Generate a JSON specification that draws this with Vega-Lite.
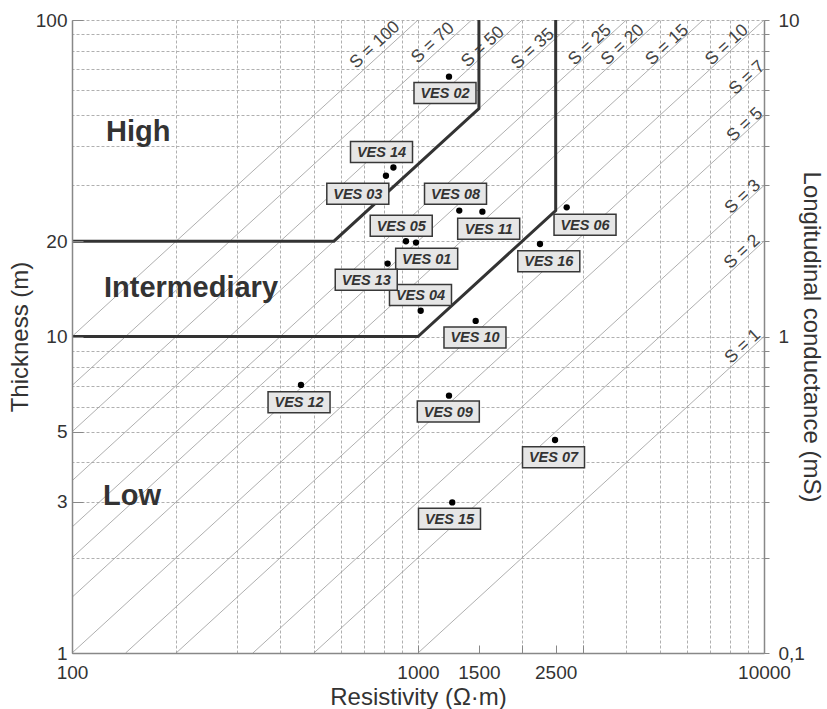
{
  "$schema": "https://vega.github.io/schema/vega-lite/v6.json",
  "width": 692,
  "height": 633,
  "autosize": {"type": "none"},
  "padding": {"left": 72, "top": 20, "right": 63, "bottom": 56},
  "background": "white",
  "config": {"view": {"stroke": null}, "font": "Liberation Sans"},
  "resolve": {"axis": {"x": "independent", "y": "independent"}},
  "datasets": {
    "diagonals": [
      {"S": 1, "rho": 1000, "h": 1}, {"S": 1, "rho": 10000, "h": 10},
      {"S": 2, "rho": 500, "h": 1}, {"S": 2, "rho": 10000, "h": 20},
      {"S": 3, "rho": 333.33, "h": 1}, {"S": 3, "rho": 10000, "h": 30},
      {"S": 5, "rho": 200, "h": 1}, {"S": 5, "rho": 10000, "h": 50},
      {"S": 7, "rho": 142.86, "h": 1}, {"S": 7, "rho": 10000, "h": 70},
      {"S": 10, "rho": 100, "h": 1}, {"S": 10, "rho": 10000, "h": 100},
      {"S": 15, "rho": 100, "h": 1.5}, {"S": 15, "rho": 6666.7, "h": 100},
      {"S": 20, "rho": 100, "h": 2}, {"S": 20, "rho": 5000, "h": 100},
      {"S": 25, "rho": 100, "h": 2.5}, {"S": 25, "rho": 4000, "h": 100},
      {"S": 35, "rho": 100, "h": 3.5}, {"S": 35, "rho": 2857.1, "h": 100},
      {"S": 50, "rho": 100, "h": 5}, {"S": 50, "rho": 2000, "h": 100},
      {"S": 70, "rho": 100, "h": 7}, {"S": 70, "rho": 1428.6, "h": 100},
      {"S": 100, "rho": 100, "h": 10}, {"S": 100, "rho": 1000, "h": 100}
    ],
    "slabels": [
      {"label": "S = 100", "rho": 751, "h": 83.4},
      {"label": "S = 70", "rho": 1104, "h": 84.6},
      {"label": "S = 50", "rho": 1541, "h": 82.2},
      {"label": "S = 35", "rho": 2148, "h": 81.0},
      {"label": "S = 25", "rho": 3140, "h": 83.4},
      {"label": "S = 20", "rho": 3908, "h": 83.4},
      {"label": "S = 15", "rho": 5248, "h": 83.4},
      {"label": "S = 10", "rho": 7816, "h": 83.4},
      {"label": "S = 7", "rho": 8933, "h": 65.6},
      {"label": "S = 5", "rho": 8810, "h": 46.6},
      {"label": "S = 3", "rho": 8690, "h": 27.6},
      {"label": "S = 2", "rho": 8650, "h": 18.5},
      {"label": "S = 1", "rho": 8690, "h": 9.3}
    ],
    "bounds": [
      {"seg": "upper", "o": 1, "rho": 100, "h": 20},
      {"seg": "upper", "o": 2, "rho": 571.4, "h": 20},
      {"seg": "upper", "o": 3, "rho": 1500, "h": 52.5},
      {"seg": "upper", "o": 4, "rho": 1500, "h": 100},
      {"seg": "lower", "o": 1, "rho": 100, "h": 10},
      {"seg": "lower", "o": 2, "rho": 1000, "h": 10},
      {"seg": "lower", "o": 3, "rho": 2500, "h": 25},
      {"seg": "lower", "o": 4, "rho": 2500, "h": 100}
    ],
    "zones": [
      {"label": "High", "rho": 125.4, "h": 44.3},
      {"label": "Intermediary", "rho": 123.7, "h": 14.2},
      {"label": "Low", "rho": 122.9, "h": 3.13}
    ],
    "ves": [
      {"name": "VES 01", "rho": 987, "h": 19.8, "label_rho": 1059.5, "label_h": 17.6},
      {"name": "VES 02", "rho": 1229, "h": 66.2, "label_rho": 1196.8, "label_h": 58.8},
      {"name": "VES 03", "rho": 808, "h": 32.2, "label_rho": 669.9, "label_h": 28.27},
      {"name": "VES 04", "rho": 1018, "h": 12.06, "label_rho": 1016.7, "label_h": 13.53},
      {"name": "VES 05", "rho": 923, "h": 20.0, "label_rho": 894.4, "label_h": 22.39},
      {"name": "VES 06", "rho": 2690, "h": 25.6, "label_rho": 3039, "label_h": 22.55},
      {"name": "VES 07", "rho": 2489, "h": 4.71, "label_rho": 2464, "label_h": 4.155},
      {"name": "VES 08", "rho": 1316, "h": 25.0, "label_rho": 1283.6, "label_h": 28.27},
      {"name": "VES 09", "rho": 1229, "h": 6.5, "label_rho": 1223.5, "label_h": 5.79},
      {"name": "VES 10", "rho": 1468, "h": 11.2, "label_rho": 1461.1, "label_h": 9.93},
      {"name": "VES 11", "rho": 1535, "h": 24.8, "label_rho": 1600.6, "label_h": 21.9},
      {"name": "VES 12", "rho": 459, "h": 7.03, "label_rho": 453.1, "label_h": 6.2},
      {"name": "VES 13", "rho": 817, "h": 17.0, "label_rho": 708.6, "label_h": 15.12},
      {"name": "VES 14", "rho": 849, "h": 34.2, "label_rho": 784.4, "label_h": 38.3},
      {"name": "VES 15", "rho": 1256, "h": 2.99, "label_rho": 1233.2, "label_h": 2.655},
      {"name": "VES 16", "rho": 2252, "h": 19.6, "label_rho": 2388, "label_h": 17.29}
    ]
  },
  "layer": [
    {
      "data": {"name": "diagonals"},
      "mark": {"type": "line", "color": "#9a9a9a", "strokeWidth": 0.8, "clip": true},
      "encoding": {
        "x": {
          "field": "rho", "type": "quantitative",
          "scale": {"type": "log", "domain": [100, 10000], "nice": false},
          "axis": {
            "orient": "top", "title": null, "labels": false, "ticks": false, "domain": false,
            "grid": true, "gridColor": "#b0b0b0", "gridDash": [3, 2], "gridWidth": 1,
            "values": [100, 200, 300, 400, 500, 600, 700, 800, 900, 1000, 2000, 3000, 4000, 5000, 6000, 7000, 8000, 9000, 10000]
          }
        },
        "y": {
          "field": "h", "type": "quantitative",
          "scale": {"type": "log", "domain": [1, 100], "nice": false},
          "axis": {
            "orient": "right", "title": "Longitudinal conductance (mS)",
            "titleFontSize": 24, "titleFontWeight": "normal", "titleColor": "#333", "titlePadding": -6,
            "grid": true, "gridColor": "#b0b0b0", "gridDash": [3, 2], "gridWidth": 1,
            "values": [1, 2, 3, 4, 5, 6, 7, 8, 9, 10, 20, 30, 40, 50, 60, 70, 80, 90, 100],
            "labelExpr": "datum.value == 1 ? '0,1' : datum.value == 10 ? '1' : datum.value == 100 ? '10' : ''",
            "labelFontSize": 19, "labelColor": "#333", "labelPadding": 9, "labelFlush": false,
            "tickSize": 5, "tickColor": "#888", "domainColor": "#888", "domainWidth": 1.5
          }
        },
        "detail": {"field": "S"}
      }
    },
    {
      "data": {"name": "slabels"},
      "mark": {"type": "text", "angle": 317.5, "fontSize": 17.5, "color": "#444", "align": "center", "baseline": "middle"},
      "encoding": {
        "x": {"field": "rho", "type": "quantitative", "scale": {"type": "log", "domain": [100, 10000], "nice": false}, "axis": null},
        "y": {"field": "h", "type": "quantitative", "scale": {"type": "log", "domain": [1, 100], "nice": false}, "axis": null},
        "text": {"field": "label"}
      }
    },
    {
      "data": {"name": "bounds"},
      "mark": {"type": "line", "color": "#333", "strokeWidth": 3},
      "encoding": {
        "x": {"field": "rho", "type": "quantitative", "scale": {"type": "log", "domain": [100, 10000], "nice": false}, "axis": null},
        "y": {"field": "h", "type": "quantitative", "scale": {"type": "log", "domain": [1, 100], "nice": false}, "axis": null},
        "detail": {"field": "seg"},
        "order": {"field": "o", "type": "quantitative"}
      }
    },
    {
      "data": {"name": "zones"},
      "mark": {"type": "text", "fontSize": 29, "fontWeight": "bold", "color": "#333", "align": "left", "baseline": "middle"},
      "encoding": {
        "x": {"field": "rho", "type": "quantitative", "scale": {"type": "log", "domain": [100, 10000], "nice": false}, "axis": null},
        "y": {"field": "h", "type": "quantitative", "scale": {"type": "log", "domain": [1, 100], "nice": false}, "axis": null},
        "text": {"field": "label"}
      }
    },
    {
      "data": {"name": "ves"},
      "mark": {"type": "circle", "size": 40, "color": "#000", "opacity": 1},
      "encoding": {
        "x": {
          "field": "rho", "type": "quantitative",
          "scale": {"type": "log", "domain": [100, 10000], "nice": false},
          "axis": {
            "orient": "bottom", "title": "Resistivity (Ω·m)",
            "titleFontSize": 24, "titleFontWeight": "normal", "titleColor": "#333", "titlePadding": 3,
            "grid": false, "values": [100, 1000, 1500, 2000, 2500, 3000, 10000],
            "labelExpr": "datum.value == 2000 || datum.value == 3000 ? '' : '' + datum.value",
            "labelFontSize": 19, "labelColor": "#333", "labelPadding": 18, "labelFlush": false,
            "tickSize": -8, "tickColor": "#888", "domainColor": "#888", "domainWidth": 1.5, "zindex": 1
          }
        },
        "y": {
          "field": "h", "type": "quantitative",
          "scale": {"type": "log", "domain": [1, 100], "nice": false},
          "axis": {
            "orient": "left", "title": "Thickness (m)",
            "titleFontSize": 24, "titleFontWeight": "normal", "titleColor": "#333", "titlePadding": 3,
            "grid": false, "values": [1, 3, 5, 10, 20, 100],
            "labelExpr": "'' + datum.value",
            "labelFontSize": 19, "labelColor": "#333", "labelPadding": 16, "labelFlush": false,
            "tickSize": -11, "tickColor": "#888", "domainColor": "#888", "domainWidth": 1.5, "zindex": 1
          }
        }
      }
    },
    {
      "data": {"name": "ves"},
      "mark": {"type": "point", "shape": "M-1,-0.339H1V0.339H-1Z", "size": 3844, "filled": true, "fill": "#e6e6e6", "stroke": "#383838", "strokeWidth": 1.5, "opacity": 1, "fillOpacity": 1, "strokeOpacity": 1},
      "encoding": {
        "x": {"field": "label_rho", "type": "quantitative", "scale": {"type": "log", "domain": [100, 10000], "nice": false}, "axis": null},
        "y": {"field": "label_h", "type": "quantitative", "scale": {"type": "log", "domain": [1, 100], "nice": false}, "axis": null}
      }
    },
    {
      "data": {"name": "ves"},
      "mark": {"type": "text", "fontSize": 14.5, "fontWeight": "bold", "fontStyle": "italic", "color": "#333", "align": "center", "baseline": "middle", "dy": 1},
      "encoding": {
        "x": {"field": "label_rho", "type": "quantitative", "scale": {"type": "log", "domain": [100, 10000], "nice": false}, "axis": null},
        "y": {"field": "label_h", "type": "quantitative", "scale": {"type": "log", "domain": [1, 100], "nice": false}, "axis": null},
        "text": {"field": "name"}
      }
    }
  ]
}
